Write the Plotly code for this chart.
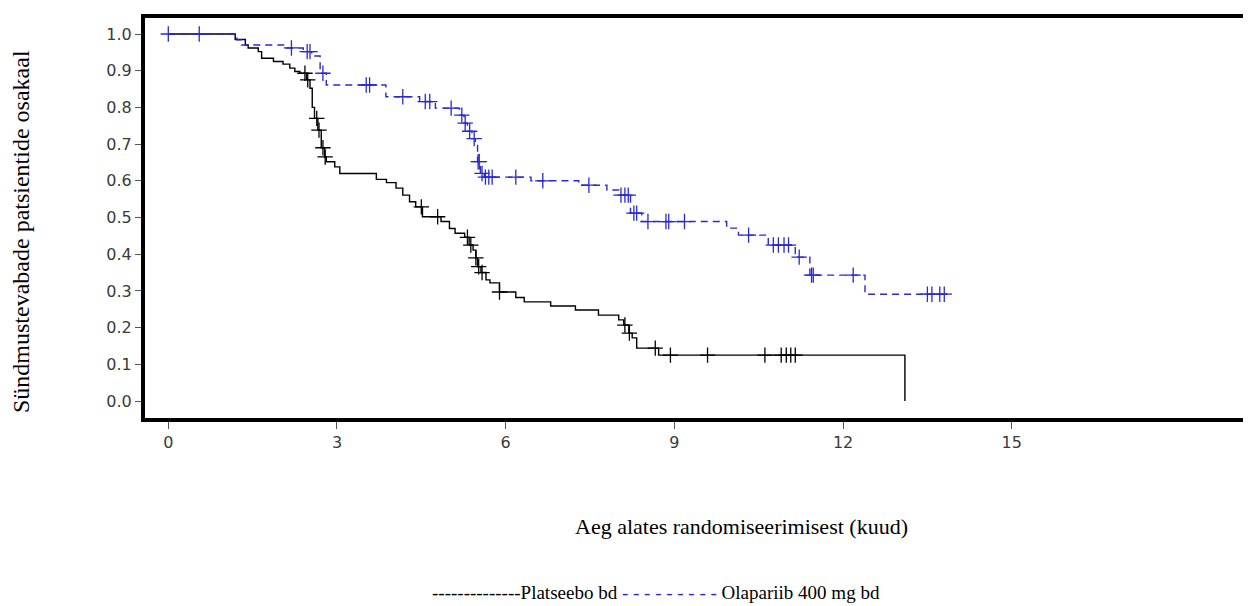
import numpy as np
import plotly.graph_objects as go

# ---- Data ----
plac_t = [0, 1.19, 1.37, 1.42, 1.60, 1.66, 1.87, 2.04, 2.16, 2.25, 2.34, 2.46, 2.52, 2.56, 2.60,
          2.66, 2.72, 2.78, 2.81, 2.96, 3.05, 3.70, 3.88, 4.05, 4.17, 4.29, 4.40, 4.52, 4.85, 5.00,
          5.10, 5.27, 5.35, 5.42, 5.47, 5.50, 5.56, 5.65, 5.72, 5.89, 6.18, 6.33, 6.80, 7.24, 7.65,
          8.01, 8.10, 8.19, 8.25, 8.33, 8.72, 13.10]
plac_s = [1.0, 0.985, 0.970, 0.962, 0.952, 0.934, 0.925, 0.918, 0.907, 0.898, 0.893, 0.875, 0.852, 0.800, 0.770,
          0.738, 0.690, 0.665, 0.652, 0.638, 0.620, 0.604, 0.595, 0.580, 0.561, 0.543, 0.529, 0.502, 0.489, 0.470,
          0.457, 0.446, 0.425, 0.411, 0.390, 0.366, 0.350, 0.330, 0.322, 0.297, 0.282, 0.270, 0.259, 0.248, 0.234,
          0.221, 0.207, 0.185, 0.172, 0.144, 0.125, 0.0]
plac_cens = [2.43, 2.48, 2.64, 2.68, 2.75, 2.79, 4.50, 4.79, 5.32, 5.38, 5.47, 5.52, 5.58, 5.89,
             8.12, 8.20, 8.66, 8.93, 9.59, 10.61, 10.90, 10.99, 11.07, 11.15]

olap_t = [0, 1.22, 1.30, 2.10, 2.40, 2.55, 2.70, 2.81, 3.87, 4.47, 4.75, 5.18, 5.26, 5.32, 5.40,
          5.46, 5.50, 5.55, 5.62, 6.45, 7.30, 7.80, 8.01, 8.22, 8.42, 9.93, 10.14, 10.67, 11.15,
          11.41, 12.39]
olap_s = [1.0, 0.984, 0.970, 0.962, 0.952, 0.940, 0.893, 0.861, 0.829, 0.816, 0.798, 0.779, 0.757, 0.735, 0.715,
          0.700, 0.652, 0.620, 0.610, 0.600, 0.588, 0.575, 0.561, 0.512, 0.489, 0.471, 0.452, 0.425, 0.392,
          0.343, 0.291]
olap_cens = [0.0, 0.55, 2.19, 2.47, 2.52, 2.75, 3.52, 3.58, 4.17, 4.57, 4.65, 5.03, 5.22, 5.28, 5.36,
             5.44, 5.51, 5.53, 5.58, 5.64, 5.70, 5.76, 6.18, 6.66, 7.48, 8.05, 8.12, 8.18, 8.28, 8.33,
             8.53, 8.85, 8.90, 9.18, 10.32, 10.76, 10.85, 10.95, 11.03, 11.22, 11.44, 11.47, 12.18,
             13.50, 13.58, 13.72, 13.80]
olap_end = 13.85

x_ticks = [0, 3, 6, 9, 12, 15]
y_ticks = [round(0.1 * i, 1) for i in range(11)]

plac_name = "Platseebo bd"
olap_name = "Olapariib 400 mg bd"
x_title = "Aeg alates randomiseerimisest (kuud)"
y_title = "Sündmustevabade patsientide osakaal"

BLUE = "#2828d8"


def step_value(times, surv, tc):
    times = np.asarray(times)
    surv = np.asarray(surv)
    idx = np.searchsorted(times, np.asarray(tc), side="right") - 1
    return surv[idx]


fig = go.Figure()

# Placebo (black, solid)
fig.add_trace(go.Scatter(x=plac_t, y=plac_s, mode="lines", line=dict(color="black", width=1.4, shape="hv"),
                         showlegend=False, hoverinfo="skip"))
fig.add_trace(go.Scatter(x=plac_cens, y=step_value(plac_t, plac_s, plac_cens), mode="markers",
                         marker=dict(symbol="cross-thin", size=11, line=dict(color="black", width=1.3)),
                         showlegend=False, hoverinfo="skip"))

# Olaparib (blue, dashed)
ox = list(olap_t) + [olap_end]
oy = list(olap_s) + [olap_s[-1]]
fig.add_trace(go.Scatter(x=ox, y=oy, mode="lines", line=dict(color=BLUE, width=1.4, shape="hv", dash="7px,5px"),
                         showlegend=False, hoverinfo="skip"))
fig.add_trace(go.Scatter(x=olap_cens, y=step_value(olap_t, olap_s, olap_cens), mode="markers",
                         marker=dict(symbol="cross-thin", size=11, line=dict(color=BLUE, width=1.3)),
                         showlegend=False, hoverinfo="skip"))

# the page body has an 8px default margin; the frame runs on past the right window edge
OFF = 8
W, H = 1251, 606 - OFF
ML, MT, MR, MB = 137, 10, 0, 188
PW, PH = W - ML - MR, H - MT - MB
X0_PAGE, X_PER_MONTH = 168.3, 56.23
x_lo = (OFF + ML - X0_PAGE) / X_PER_MONTH
x_hi = x_lo + PW / X_PER_MONTH


def px(page_x):
    return (page_x - OFF - ML) / PW


def py(page_y):
    return (H - MB - (page_y - OFF)) / PH


tickfont = dict(family="DejaVu Sans", size=16, color="#3a3a3a")
serif = "Liberation Serif, Times New Roman, serif"

fig.update_layout(
    width=W, height=H,
    margin=dict(l=ML, r=MR, t=MT, b=MB),
    plot_bgcolor="white", paper_bgcolor="white",
    xaxis=dict(range=[x_lo, x_hi], tickvals=x_ticks, ticktext=[str(v) for v in x_ticks],
               showgrid=False, zeroline=False, showline=True, linecolor="black", linewidth=4, mirror=True,
               ticks="outside", ticklen=7, tickwidth=1, tickcolor="#555", tickfont=tickfont),
    yaxis=dict(range=[-0.0463, 1.0436], tickvals=y_ticks, ticktext=[f"{v:.1f}" for v in y_ticks],
               showgrid=False, zeroline=False, showline=True, linecolor="black", linewidth=4, mirror=False,
               ticks="outside", ticklen=6, tickwidth=1, tickcolor="#555", tickfont=tickfont),
    annotations=[
        dict(text=x_title, xref="paper", yref="paper", x=px(741), y=py(526), showarrow=False,
             font=dict(family=serif, size=22, color="black"), xanchor="center", yanchor="middle"),
        dict(text=y_title, xref="paper", yref="paper", x=px(21), y=py(232), showarrow=False, textangle=-90,
             font=dict(family=serif, size=24, color="black"), xanchor="center", yanchor="middle"),
        dict(text="--------------" + plac_name + " <span style='color:" + BLUE + "'>- - - - - - - - -</span> " + olap_name,
             xref="paper", yref="paper", x=px(430), y=py(592), showarrow=False,
             font=dict(family=serif, size=19, color="black"), xanchor="left", yanchor="middle"),
    ],
)

fig.write_html("out.html")
